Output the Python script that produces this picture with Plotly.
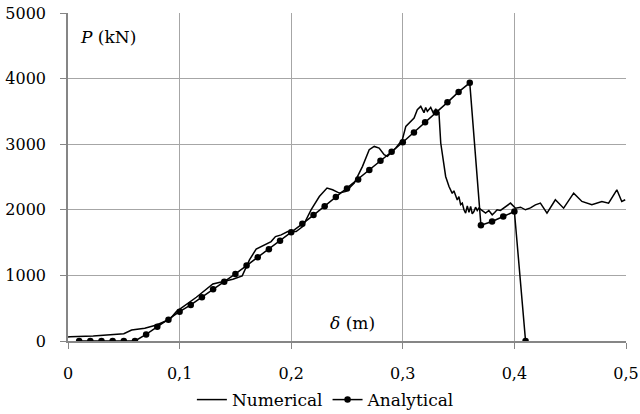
import plotly.graph_objects as go

# Numerical curve
num_x = [0.0, 0.0018, 0.0226, 0.045, 0.05, 0.057, 0.0688, 0.0793, 0.0912, 0.0971,
         0.1046, 0.115, 0.1298, 0.1388, 0.1477, 0.1561, 0.1626, 0.1686, 0.1745, 0.182,
         0.1859, 0.191, 0.1969, 0.2044, 0.2103, 0.2178, 0.2252, 0.2321, 0.2371, 0.2431,
         0.2491, 0.2565, 0.2639, 0.2699, 0.2744, 0.2788, 0.2833, 0.2862, 0.2937, 0.2996,
         0.3027, 0.3056, 0.3086, 0.3101, 0.313, 0.3161, 0.319, 0.3205, 0.322, 0.3235, 0.325,
         0.328, 0.3295, 0.331, 0.3324, 0.334, 0.336, 0.3384, 0.3414, 0.3443, 0.3458,
         0.3474, 0.3488, 0.3503, 0.3518, 0.3533, 0.3548, 0.3563, 0.3578, 0.3593, 0.3608,
         0.3622, 0.3637, 0.3652, 0.3667, 0.3682, 0.3712, 0.3742, 0.3771, 0.3801, 0.3823,
         0.3845, 0.3875, 0.3905, 0.3935, 0.3965, 0.401, 0.4055, 0.4099, 0.4144, 0.4188,
         0.4233, 0.4292, 0.4367, 0.4441, 0.4531, 0.4605, 0.4694, 0.4784, 0.4844, 0.4918,
         0.4962, 0.4993]
num_y = [60, 66, 76, 96, 110, 168, 194, 244, 331, 447,
         534, 667, 870, 905, 942, 992, 1237, 1400, 1450, 1516,
         1592, 1618, 1669, 1669, 1745, 2000, 2203, 2331, 2305, 2255,
         2280, 2407, 2662, 2916, 2966, 2941, 2840, 2814, 2941, 3068,
         3272, 3323, 3374, 3400, 3527, 3577, 3480, 3560, 3500, 3540, 3560,
         3450, 3540, 3470, 3476, 3018, 2763, 2508, 2356, 2250, 2290,
         2203, 2150, 2200, 2080, 2102, 2000, 1949, 2060, 1960, 2050,
         1940, 1974, 2040, 1990, 2025, 1980, 1950, 1990, 1924, 1960,
         2000, 1990, 2025, 2060, 2102, 2025, 2040, 2000, 2030, 2076,
         2102, 1950, 2153, 2025, 2254, 2127, 2076, 2127, 2102, 2305,
         2127, 2153]

# Analytical curve
ana_x = [0.01, 0.02, 0.03, 0.04, 0.05, 0.06, 0.07, 0.08, 0.09, 0.10,
         0.11, 0.12, 0.13, 0.14, 0.15, 0.16, 0.17, 0.18, 0.19, 0.20,
         0.21, 0.22, 0.23, 0.24, 0.25, 0.26, 0.27, 0.28, 0.29, 0.30,
         0.31, 0.32, 0.33, 0.34, 0.35, 0.36, 0.37, 0.38, 0.39, 0.40, 0.41]
ana_y = [0, 0, 0, 0, 0, 0, 100, 218, 325, 447,
         550, 667, 789, 905, 1023, 1150, 1275, 1400, 1527, 1659,
         1786, 1919, 2056, 2194, 2325, 2463, 2606, 2748, 2885, 3030,
         3180, 3333, 3485, 3638, 3797, 3935, 1766, 1822, 1898, 1974, 0]

x_ticks = [0, 0.1, 0.2, 0.3, 0.4, 0.5]
x_tick_labels = ["0", "0,1", "0,2", "0,3", "0,4", "0,5"]
y_ticks = [0, 1000, 2000, 3000, 4000, 5000]
y_tick_labels = ["0", "1000", "2000", "3000", "4000", "5000"]

FONT = "DejaVu Serif"
FS = 17
FS_TICK = 16

fig = go.Figure()
fig.add_trace(go.Scatter(x=num_x, y=num_y, mode="lines", name="Numerical",
                         line=dict(color="black", width=1.5)))
fig.add_trace(go.Scatter(x=ana_x, y=ana_y, mode="lines+markers", name="Analytical",
                         line=dict(color="black", width=1.5),
                         marker=dict(color="black", size=6.5, symbol="circle")))

fig.add_annotation(x=0.009, y=4641, xref="x", yref="y", text="<i>P</i> (kN)",
                   showarrow=False, xanchor="left", yanchor="middle",
                   font=dict(family=FONT, size=FS, color="black"))
fig.add_annotation(x=0.233, y=275, xref="x", yref="y", text="<i>δ</i> (m)",
                   showarrow=False, xanchor="left", yanchor="middle",
                   font=dict(family=FONT, size=FS, color="black"))

axis_common = dict(showline=True, linecolor="#868686", linewidth=1.5,
                   showgrid=True, gridcolor="#a6a6a6", gridwidth=1,
                   ticks="outside", ticklen=6, tickcolor="#868686", tickwidth=1,
                   zeroline=False, ticklabeloverflow="allow", automargin=False,
                   tickfont=dict(family=FONT, size=FS_TICK, color="black"))

fig.update_xaxes(range=[0, 0.5], tickvals=x_ticks, ticktext=x_tick_labels,
                 ticklabelstandoff=11, **axis_common)
fig.update_yaxes(range=[0, 5000], tickvals=y_ticks, ticktext=y_tick_labels,
                 ticklabelstandoff=11, **axis_common)

fig.update_layout(
    width=640, height=414,
    margin=dict(l=68, r=14, t=13, b=73, autoexpand=False),
    paper_bgcolor="white", plot_bgcolor="white",
    font=dict(family=FONT, size=FS, color="black"),
    showlegend=True,
    legend=dict(orientation="h", x=0.222, xanchor="left", y=-0.18, yanchor="middle",
                font=dict(family=FONT, size=FS, color="black"),
                itemwidth=30, tracegroupgap=0, bgcolor="rgba(0,0,0,0)"),
)

fig.write_html("out.html")
